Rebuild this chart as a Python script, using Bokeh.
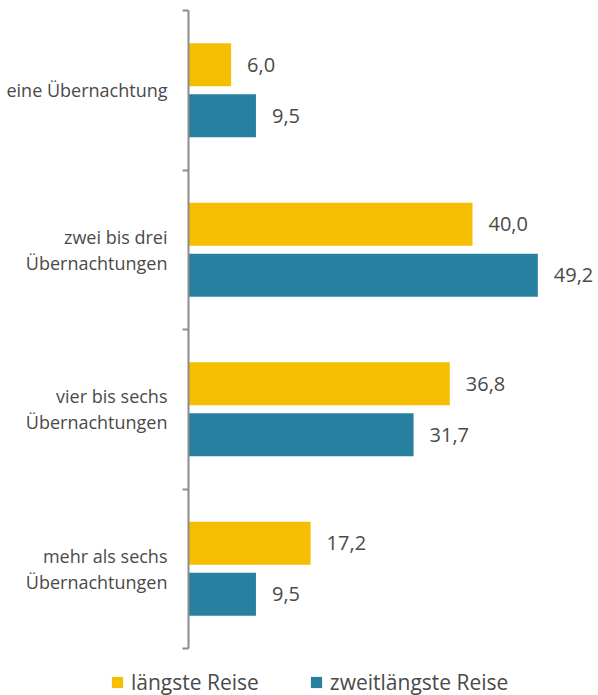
from bokeh.plotting import figure
from bokeh.models import (ColumnDataSource, Range1d, FixedTicker, Legend, LegendItem)
from bokeh.core.properties import value
from bokeh.transform import dodge
from bokeh.embed import file_html
from bokeh.resources import INLINE

categories = ["eine Übernachtung", "zwei bis drei\nÜbernachtungen",
              "vier bis sechs\nÜbernachtungen", "mehr als sechs\nÜbernachtungen"]
laengste = [6.0, 40.0, 36.8, 17.2]
zweitlaengste = [9.5, 49.2, 31.7, 9.5]
series_names = ["längste Reise", "zweitlängste Reise"]

YELLOW = "#F5BE00"
TEAL = "#2880A1"
TEXT = "#4a4a4a"
FONT = "Open Sans"

W, H = 598, 695
AX_X, TOP, BOT = 188, 10, 648          # frame pixel layout
PX_PER_UNIT = 7.1
n = len(categories)
band = (BOT - TOP) / n

pos = [i + 0.5 for i in range(n)]
fmt = lambda v: f"{v:.1f}".replace(".", ",")

src = ColumnDataSource(dict(
    pos=pos, a=laengste, b=zweitlaengste,
    la=[fmt(v) for v in laengste], lb=[fmt(v) for v in zweitlaengste],
))

p = figure(width=W, height=H, output_backend="svg", toolbar_location=None,
           x_range=Range1d(-AX_X / PX_PER_UNIT, (W - AX_X) / PX_PER_UNIT),
           y_range=Range1d(n + (H - BOT) / band, -TOP / band),
           min_border=0)
p.outline_line_color = None
p.grid.visible = False
p.xaxis.visible = False

ra = p.hbar(y=dodge("pos", -0.16, range=p.y_range), right="a", left=0, height=0.27,
            source=src, fill_color=YELLOW, line_color=None)
rb = p.hbar(y=dodge("pos", 0.16, range=p.y_range), right="b", left=0, height=0.27,
            source=src, fill_color=TEAL, line_color=None)

for col, lab, off in (("a", "la", -0.16), ("b", "lb", 0.16)):
    p.text(x=col, y=dodge("pos", off, range=p.y_range), text=lab, source=src,
           x_offset=16, text_align="left", text_baseline="middle",
           text_font_size="20px", text_color=TEXT, text_font=value(FONT))

ax = p.yaxis[0]
ax.fixed_location = 0
ax.bounds = (0, n)
ax.ticker = FixedTicker(ticks=pos, minor_ticks=list(range(n + 1)))
ax.major_label_overrides = {v: c for v, c in zip(pos, categories)}
ax.major_tick_line_color = None
ax.minor_tick_line_color = "#8c8c8c"
ax.minor_tick_line_width = 2
ax.minor_tick_out = 6
ax.minor_tick_in = 0
ax.axis_line_color = "#8c8c8c"
ax.axis_line_width = 2
ax.major_label_standoff = 15
ax.major_label_text_font = FONT
ax.major_label_text_font_size = "18px"
ax.major_label_text_color = TEXT
ax.major_label_text_line_height = 1.1

legend = Legend(items=[LegendItem(label=series_names[0], renderers=[ra]),
                       LegendItem(label=series_names[1], renderers=[rb])],
                orientation="horizontal", location=(110, -1),
                label_text_font=FONT, label_text_font_size="21px",
                label_text_color=TEXT, glyph_width=14, glyph_height=14,
                label_standoff=7, spacing=50, padding=0, margin=0,
                border_line_color=None, background_fill_alpha=0)
p.add_layout(legend, "center")

open("out.html", "w").write(file_html(p, INLINE))
